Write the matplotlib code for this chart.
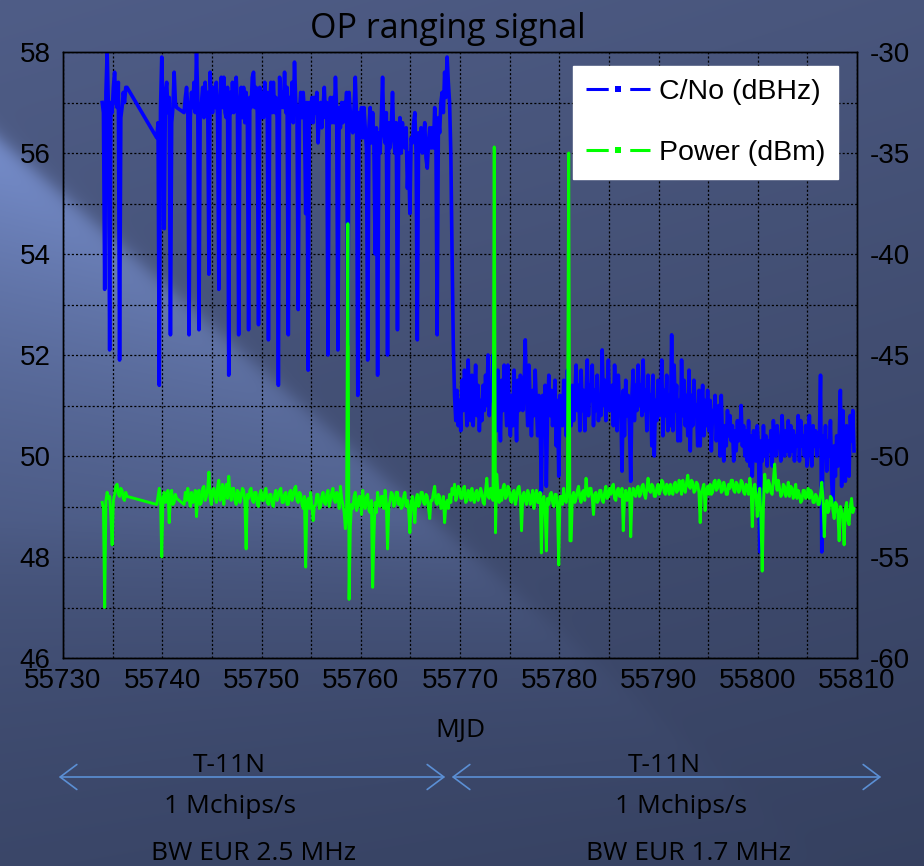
import numpy as np
import matplotlib
matplotlib.use('Agg')
import matplotlib.pyplot as plt
from matplotlib.lines import Line2D
from matplotlib.patches import FancyArrowPatch
from matplotlib.ticker import MultipleLocator, ScalarFormatter

plt.rcParams['lines.scale_dashes'] = False
plt.rcParams['axes.unicode_minus'] = False

# sampling: three stretches of data, 3 h step
step = 0.125
seg_start = [55733.95, 55739.45, 55742.2]

# C/No (dBHz), left axis
cno_a = [57.0, 56.8, 53.3, 57.2, 58.0, 56.9, 52.1, 57.0, 56.8, 57.3, 57.6,
         57.0, 56.9, 57.4, 51.9, 56.7, 56.9, 57.2, 57.0, 57.3, 57.3]
cno_b = [56.3, 56.6, 51.4, 56.9, 57.9, 56.8, 54.5, 57.2, 57.4, 56.8, 57.1,
         52.4, 56.6, 56.9, 57.6, 57.0, 56.9]
cno_c = [
    56.8, 57.1, 57.3, 56.9, 52.4, 56.7, 57.2, 56.9,  # 55742
    57.4, 56.8, 58.0, 57.1, 52.5, 56.9, 57.0, 57.3,
    56.7, 57.4, 56.8, 57.2, 53.6, 57.6, 57.0, 56.8,
    57.3, 56.9, 57.4, 56.7, 53.3, 57.0, 57.5, 56.9,
    57.5, 56.8, 56.7, 57.3, 51.6, 57.2, 56.8, 57.4,
    56.8, 57.3, 57.5, 56.9, 52.4, 56.9, 57.3, 56.7,
    57.3, 56.6, 57.2, 56.8, 52.5, 57.1, 56.9, 57.5,
    57.6, 56.9, 57.3, 56.8, 52.6, 57.3, 56.7, 57.2,
    56.7, 57.4, 56.9, 57.2, 52.3, 57.0, 57.4, 56.8,  # 55750
    57.4, 56.8, 57.1, 56.7, 51.4, 57.5, 56.9, 57.2,
    56.9, 57.6, 56.8, 57.3, 52.4, 57.1, 56.7, 57.4,
    56.6, 57.8, 57.0, 56.9, 52.9, 56.8, 57.2, 56.7,
    57.2, 56.8, 54.8, 57.0, 51.7, 57.0, 56.6, 57.1,
    56.6, 57.1, 56.8, 57.2, 56.2, 56.8, 57.0, 56.5,
    56.9, 57.3, 56.7, 57.0, 52.0, 56.7, 57.1, 56.6,
    57.1, 56.6, 57.5, 56.8, 52.1, 56.9, 56.5, 57.0,
    56.6, 57.0, 56.7, 57.2, 52.2, 57.2, 56.8, 56.5,
    56.4, 56.9, 57.5, 56.7, 51.2, 56.8, 56.3, 56.9,
    56.3, 56.9, 56.5, 56.1, 51.9, 56.5, 56.9, 56.2,  # 55760
    56.8, 56.2, 54.0, 56.5, 51.6, 56.4, 56.0, 56.7,
    57.5, 56.4, 56.2, 56.8, 52.0, 56.6, 56.1, 56.5,
    57.2, 56.3, 56.0, 56.6, 52.5, 56.3, 56.7, 56.0,
    56.6, 56.2, 56.1, 56.5, 55.3, 56.0, 54.8, 56.3,
    56.2, 56.6, 56.8, 56.0, 52.3, 56.4, 56.1, 56.5,
    56.0, 56.3, 56.6, 55.9, 55.7, 56.2, 56.5, 56.1,
    56.5, 56.1, 56.9, 56.3, 52.4, 56.7, 56.4, 57.0,
    57.2, 56.8, 57.6, 57.1, 57.9, 57.4, 57.0, 56.0,
    54.0, 52.2, 51.2, 50.7, 51.3, 50.6, 51.1, 50.5,  # 55769
    51.5, 50.9, 51.7, 51.2, 50.6, 51.9, 51.0, 50.7,  # 55770
    51.6, 50.6, 51.2, 51.8, 50.8, 51.4, 50.5, 51.1,
    50.7, 51.4, 50.9, 51.6, 51.0, 52.0, 50.8, 51.3,
    51.1, 52.0, 50.6, 51.3, 50.5, 51.7, 51.0, 50.3,
    51.5, 50.9, 51.8, 51.2, 50.6, 51.8, 51.0, 50.4,
    51.2, 50.6, 51.7, 51.0, 50.3, 51.5, 50.9, 51.6,
    51.5, 50.9, 51.3, 52.3, 51.2, 50.6, 51.8, 51.0,
    50.4, 51.3, 50.8, 51.7, 51.0, 50.4, 51.2, 50.7,
    49.3, 51.2, 50.5, 51.4, 49.4, 50.9, 51.6, 50.8,
    51.3, 50.6, 51.0, 51.5, 50.2, 51.1, 49.6, 51.2,
    51.1, 50.6, 51.5, 51.0, 50.4, 51.7, 50.8, 51.3,  # 55780
    50.6, 51.4, 50.7, 51.2, 51.8, 50.9, 51.4, 50.5,
    51.7, 50.9, 51.3, 50.5, 51.2, 51.9, 50.8, 51.4,
    51.1, 51.8, 50.6, 51.3, 50.9, 51.6, 50.7, 51.2,
    50.8, 52.1, 51.0, 51.5, 50.7, 51.3, 51.9, 50.9,
    50.9, 51.4, 50.6, 51.8, 51.1, 50.5, 51.6, 51.0,
    51.0, 49.7, 51.3, 50.4, 51.5, 50.8, 51.2, 50.6,
    49.5, 51.2, 51.7, 50.7, 51.4, 50.9, 51.8, 51.0,
    51.4, 50.8, 51.9, 50.9, 51.3, 50.5, 51.6, 51.0,
    51.2, 50.2, 51.6, 50.0, 51.1, 50.7, 51.5, 50.8,
    51.0, 51.9, 50.4, 51.3, 50.8, 51.6, 50.5, 51.2,  # 55790
    50.6, 52.4, 50.5, 51.8, 50.9, 51.4, 50.3, 51.1,
    50.3, 51.9, 50.8, 51.5, 50.6, 51.2, 50.4, 51.7,
    50.1, 51.2, 50.6, 51.5, 50.8, 51.0, 50.2, 51.3,
    50.2, 51.0, 51.4, 50.4, 51.1, 50.6, 51.3, 50.5,
    51.1, 50.1, 50.9, 50.7, 51.2, 50.3, 50.8, 51.0,
    50.0, 51.2, 50.3, 49.9, 50.6, 50.2, 50.9, 50.4,
    50.8, 50.3, 50.6, 49.9, 50.5, 50.1, 50.7, 50.3,
    50.4, 51.0, 50.2, 50.6, 50.0, 50.5, 49.9, 50.7,
    49.8, 50.4, 49.6, 50.5, 50.1, 49.9, 50.6, 50.2,
    48.1, 50.3, 49.9, 50.6, 50.0, 50.4, 49.8, 50.3,  # 55800
    50.1, 50.5, 49.8, 50.7, 50.2, 50.0, 50.6, 50.3,
    50.2, 49.9, 50.8, 50.3, 50.0, 50.5, 50.1, 50.7,
    50.0, 50.6, 50.1, 50.5, 49.9, 50.4, 50.2, 50.8,
    49.9, 50.7, 50.2, 50.4, 50.0, 50.6, 49.8, 50.3,
    50.8, 50.1, 49.8, 50.6, 50.2, 50.5, 50.0, 50.4,
    50.2, 51.6, 48.1, 50.4, 50.0, 50.6, 49.7, 50.3,
    50.0, 50.7, 49.5, 49.0, 50.2, 49.6, 50.4, 49.8,
    50.3, 51.3, 49.4, 50.9, 50.0, 49.5, 50.6, 49.9,
    49.6, 50.8, 50.3, 50.9, 50.1,
]

# Power (dBm), right axis
pwr_a = [-52.3, -52.6, -57.5, -52.2, -51.8, -52.1, -52.0, -53.0, -54.4, -52.2, -51.9,
         -51.5, -51.4, -51.9, -52.0, -51.6, -51.7, -52.1, -52.2, -51.8, -52.0]
pwr_b = [-52.4, -52.0, -51.6, -52.2, -55.0, -52.1, -51.8, -52.3, -52.2, -51.7, -53.3,
         -52.0, -51.7, -52.4, -52.3, -51.9, -52.1]
pwr_c = [
    -52.4, -51.8, -52.2, -51.6, -52.1, -52.5, -51.8, -52.3,  # 55742
    -52.2, -51.7, -53.0, -52.0, -51.7, -52.4, -52.3, -51.6,
    -51.5, -52.2, -52.0, -51.6, -50.8, -52.1, -52.4, -51.7,
    -51.6, -52.0, -52.3, -51.5, -51.2, -52.2, -51.9, -51.4,
    -52.4, -51.7, -51.4, -52.1, -51.0, -51.8, -52.2, -51.6,
    -51.6, -52.2, -52.4, -51.7, -51.8, -52.3, -52.0, -51.6,
    -51.7, -52.3, -54.6, -51.9, -52.1, -51.7, -51.6, -52.2,
    -52.3, -51.8, -51.8, -52.4, -52.5, -51.9, -51.7, -52.2,
    -52.2, -51.8, -51.6, -52.3, -52.4, -51.9, -51.9, -52.4,  # 55750
    -52.5, -51.9, -51.7, -52.2, -52.0, -51.7, -51.6, -52.3,
    -52.3, -51.9, -51.8, -52.4, -52.4, -51.8, -51.7, -52.2,
    -52.0, -51.6, -51.5, -52.2, -52.3, -51.8, -51.9, -52.4,
    -52.6, -52.0, -55.5, -52.3, -52.1, -52.6, -51.8, -52.5,
    -53.2, -52.5, -52.4, -51.9, -51.9, -52.6, -52.5, -52.0,
    -51.8, -52.3, -52.4, -51.9, -51.7, -52.5, -52.2, -51.8,
    -51.6, -52.2, -52.3, -51.8, -52.0, -52.6, -51.5, -52.1,
    -52.4, -52.8, -53.6, -52.9, -38.5, -57.1, -53.5, -52.4,
    -52.6, -52.0, -51.8, -52.7, -52.5, -52.0, -52.0, -52.9,
    -51.7, -52.4, -52.6, -52.0, -51.9, -52.7, -52.8, -52.2,  # 55760
    -56.5, -54.0, -52.3, -52.8, -51.8, -52.4, -52.5, -52.0,
    -52.0, -52.6, -51.7, -52.3, -54.6, -52.5, -52.2, -51.8,
    -51.9, -52.5, -52.4, -51.8, -51.8, -52.4, -52.1, -52.6,
    -52.5, -52.0, -51.8, -52.5, -52.2, -52.7, -53.8, -52.3,
    -52.0, -52.6, -53.3, -52.1, -51.9, -52.5, -52.3, -51.8,
    -51.8, -52.3, -52.4, -51.9, -52.0, -52.6, -53.1, -52.2,
    -52.2, -51.8, -51.5, -52.3, -52.4, -51.9, -52.0, -52.6,
    -52.5, -52.0, -53.3, -52.4, -52.2, -52.6, -51.9, -52.3,
    -51.6, -51.9, -51.4, -52.2, -52.0, -51.5, -51.6, -52.1,  # 55769
    -52.1, -51.6, -51.5, -52.3, -52.2, -51.7, -51.8, -52.2,  # 55770
    -51.6, -52.1, -52.3, -51.8, -51.7, -52.2, -52.0, -51.6,
    -51.8, -52.3, -52.4, -51.7, -51.1, -52.0, -52.1, -51.6,
    -51.7, -52.2, -34.7, -53.8, -50.9, -51.8, -52.3, -51.7,
    -52.2, -51.6, -51.4, -52.1, -52.0, -51.5, -51.6, -52.2,
    -52.3, -51.8, -51.7, -52.4, -52.1, -51.6, -51.5, -52.0,
    -53.7, -52.0, -51.8, -52.2, -52.4, -51.7, -51.9, -52.4,
    -52.1, -51.7, -52.6, -52.0, -51.7, -52.3, -52.3, -51.8,
    -54.8, -52.2, -52.0, -52.6, -54.7, -52.1, -52.4, -51.9,
    -51.8, -52.3, -52.5, -51.9, -51.9, -52.6, -55.4, -52.0,
    -52.0, -52.4, -51.6, -52.2, -52.3, -51.8, -35.0, -54.2,  # 55780
    -54.2, -52.0, -51.8, -52.3, -52.1, -51.7, -51.5, -52.1,
    -52.3, -51.8, -51.7, -52.2, -51.1, -51.8, -52.0, -51.6,
    -51.6, -52.1, -52.9, -51.9, -51.8, -52.3, -52.2, -51.7,
    -51.7, -52.2, -52.3, -51.8, -51.5, -52.1, -52.0, -51.6,
    -51.9, -51.5, -51.4, -52.1, -52.2, -51.7, -51.6, -52.0,
    -52.0, -51.6, -53.7, -52.1, -51.7, -52.2, -52.1, -51.6,
    -54.0, -52.0, -51.6, -51.9, -52.0, -51.6, -51.5, -52.0,
    -51.9, -51.5, -51.4, -51.9, -52.1, -51.6, -51.1, -51.7,
    -51.8, -51.4, -51.5, -52.0, -52.0, -51.6, -51.4, -51.9,
    -51.7, -51.2, -51.3, -51.8, -51.9, -51.4, -51.5, -51.9,  # 55790
    -51.4, -51.8, -51.9, -51.4, -51.3, -51.8, -51.7, -51.2,
    -51.5, -51.9, -51.2, -51.6, -51.8, -51.3, -50.95, -51.5,
    -51.6, -51.2, -51.3, -51.8, -51.7, -51.3, -51.4, -51.8,
    -53.3, -51.8, -51.6, -51.4, -52.7, -51.7, -51.5, -51.9,
    -51.4, -51.9, -51.8, -51.3, -51.2, -51.7, -51.6, -51.2,
    -51.3, -51.8, -51.7, -51.3, -51.5, -51.9, -51.9, -51.4,
    -51.6, -51.2, -51.2, -51.7, -51.8, -51.3, -51.4, -51.8,
    -51.7, -51.2, -51.3, -51.8, -51.9, -51.4, -51.5, -51.9,
    -51.1, -51.6, -53.5, -51.7, -51.4, -51.9, -53.0, -52.1,
    -51.6, -53.2, -55.7, -52.4, -50.9, -51.5, -51.8, -51.2,  # 55800
    -51.4, -51.8, -51.9, -51.2, -50.4, -51.3, -51.7, -51.2,
    -51.6, -52.0, -51.9, -51.4, -51.5, -52.0, -51.8, -51.3,
    -52.0, -51.5, -51.6, -52.1, -51.8, -51.4, -52.1, -51.7,
    -51.9, -52.3, -52.2, -51.7, -51.7, -52.1, -52.0, -51.6,
    -52.1, -51.7, -51.8, -52.3, -52.3, -51.9, -52.0, -52.4,
    -52.4, -51.9, -51.3, -52.1, -54.0, -52.5, -52.2, -52.8,
    -52.6, -52.0, -52.1, -52.7, -53.1, -52.3, -52.4, -52.9,
    -54.2, -52.5, -52.7, -53.0, -54.4, -52.6, -52.3, -53.2,
    -53.4, -52.5, -52.1, -52.8, -52.6,
]


def times(parts):
    return np.concatenate([s + step * np.arange(len(p)) for s, p in zip(seg_start, parts)])


cno_t = times([cno_a, cno_b, cno_c])
cno = np.concatenate([cno_a, cno_b, cno_c])
pwr_t = times([pwr_a, pwr_b, pwr_c])
pwr = np.concatenate([pwr_a, pwr_b, pwr_c])

W, H = 924, 866
fig = plt.figure(figsize=(W / 100, H / 100), dpi=100)

# slide background with a light diagonal streak on the left
yy, xx = np.mgrid[0:H, 0:W].astype(float)
top_c = np.array([0x4f, 0x5d, 0x87]) / 255
bot_c = np.array([0x3a, 0x46, 0x68]) / 255
f = (yy / H)[..., None]
img = top_c * (1 - f) + bot_c * f
img *= (1 - 0.08 * (xx / W))[..., None]
d = (yy - 0.88 * xx - 140) / np.hypot(1, 0.88)
edge = 1 / (1 + np.exp(-d / 5))
streak = edge * np.exp(-np.clip(d, 0, None) / 200) * np.exp(-xx / 480)
streak *= np.exp(-np.clip(yy - 520, 0, None) / 140)
img += streak[..., None] * (np.array([0x2c, 0x36, 0x4c]) / 255)
img = np.clip(img, 0, 1)
bg = fig.add_axes([0, 0, 1, 1], zorder=0)
bg.imshow(img, aspect='auto')
bg.axis('off')

ax = fig.add_axes([63 / W, 1 - 658 / H, 794 / W, 606 / H], zorder=1)
ax.patch.set_alpha(0)
ax2 = ax.twinx()
ax2.patch.set_alpha(0)

ax.plot(cno_t, cno, color='#0000ff', lw=2.6)
ax2.plot(pwr_t, pwr, color='#00ff00', lw=2.1)

ax.set_xlim(55730, 55810)
ax.set_ylim(46, 58)
ax2.set_ylim(-60, -30)
ax.xaxis.set_major_locator(MultipleLocator(10))
ax.xaxis.set_minor_locator(MultipleLocator(5))
ax.yaxis.set_major_locator(MultipleLocator(2))
ax.yaxis.set_minor_locator(MultipleLocator(1))
ax2.yaxis.set_major_locator(MultipleLocator(5))
ax.xaxis.set_major_formatter(ScalarFormatter(useOffset=False))

ax.grid(True, which='both', color='black', lw=0.9, linestyle=(0, (1.5, 1.5)))

for a in (ax, ax2):
    a.tick_params(which='both', length=0, labelsize=20)
    for s in a.spines.values():
        s.set_color('black')
        s.set_linewidth(1.0)
ax.tick_params(axis='y', pad=9)
ax2.tick_params(axis='y', pad=9)
ax.tick_params(axis='x', pad=7)
for lab in ax.get_xticklabels() + ax.get_yticklabels() + ax2.get_yticklabels():
    lab.set_fontfamily('Liberation Sans')

handles = [
    Line2D([], [], color='#0000ff', lw=2.2, linestyle=(0, (16, 15.5)), marker='s',
           markersize=4.5, markeredgewidth=0),
    Line2D([], [], color='#00ff00', lw=2.2, linestyle=(0, (16, 15.5)), marker='s',
           markersize=4.5, markeredgewidth=0),
]
ax2.legend(handles, ['C/No (dBHz)', 'Power (dBm)'], loc='upper left',
           bbox_to_anchor=(573 / W, 1 - 66 / H), bbox_transform=fig.transFigure,
           borderaxespad=0, fancybox=False, framealpha=1, edgecolor='white',
           prop=dict(family='Liberation Sans', size=20.5), handlelength=2.26,
           handletextpad=0.3, labelspacing=1.25, borderpad=0.45)

txt = dict(family='Open Sans', color='black')
fig.text(448 / W, 1 - 38 / H, 'OP ranging signal', ha='center', va='baseline', size=24.5, **txt)
fig.text(460 / W, 1 - 737 / H, 'MJD', ha='center', va='baseline', size=19, **txt)
fig.text(229 / W, 1 - 772 / H, 'T-11N', ha='center', va='baseline', size=19, **txt)
fig.text(664 / W, 1 - 772 / H, 'T-11N', ha='center', va='baseline', size=19, **txt)
fig.text(230 / W, 1 - 813 / H, '1 Mchips/s', ha='center', va='baseline', size=19, **txt)
fig.text(681 / W, 1 - 813 / H, '1 Mchips/s', ha='center', va='baseline', size=19, **txt)
fig.text(253 / W, 1 - 860 / H, 'BW EUR 2.5 MHz', ha='center', va='baseline', size=19, **txt)
fig.text(689 / W, 1 - 860 / H, 'BW EUR 1.7 MHz', ha='center', va='baseline', size=19, **txt)

for x0, x1 in [(56, 448), (449, 884)]:
    arr = FancyArrowPatch((x0 / W, 1 - 777 / H), (x1 / W, 1 - 777 / H),
                          transform=fig.transFigure, arrowstyle='<->,head_length=0.6,head_width=0.45',
                          mutation_scale=20, color='#5b8fd4', lw=1.2)
    fig.patches.append(arr)

fig.savefig('out.png', dpi=100)
